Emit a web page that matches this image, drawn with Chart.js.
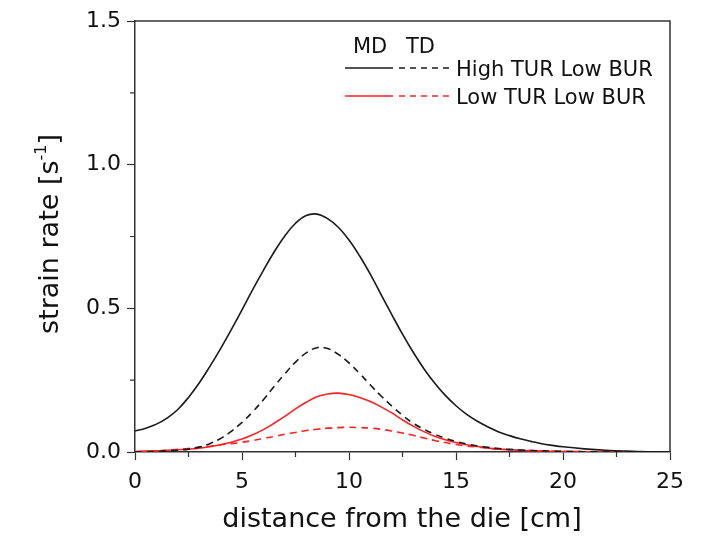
<!DOCTYPE html>
<html>
<head>
<meta charset="utf-8">
<script src="https://cdn.jsdelivr.net/npm/chart.js@4.4.1/dist/chart.umd.min.js"></script>
<style>
  html, body { margin: 0; padding: 0; background: #fff; }
  #wrap { width: 705px; height: 548px; }
</style>
</head>
<body>
<div id="wrap"><canvas id="strainChart" width="705" height="548"></canvas></div>
<script>
// distance from the die [cm]
const distance = [
    0, 0.5, 1, 1.5, 2, 2.5, 3, 3.5, 4, 4.5,
    5, 5.5, 6, 6.5, 7, 7.5, 8, 8.5, 9, 9.5,
    10, 10.5, 11, 11.5, 12, 12.5, 13, 13.5, 14, 14.5,
    15, 15.5, 16, 16.5, 17, 17.5, 18, 18.5, 19, 19.5,
    20, 21, 22, 23, 24, 25
];

// strain rate [1/s]
const highTurMD = [
    0.073, 0.083, 0.097, 0.118, 0.148, 0.190, 0.240, 0.298, 0.360, 0.426,
    0.495, 0.565, 0.632, 0.696, 0.752, 0.796, 0.823, 0.828, 0.812, 0.782,
    0.738, 0.682, 0.618, 0.548, 0.478, 0.410, 0.347, 0.290, 0.240, 0.197,
    0.161, 0.131, 0.107, 0.087, 0.070, 0.057, 0.046, 0.037, 0.029, 0.023,
    0.018, 0.011, 0.006, 0.003, 0.001, 0.0
];
const highTurTD = [
    0.0, 0.001, 0.002, 0.004, 0.006, 0.010, 0.017, 0.029, 0.047, 0.072,
    0.103, 0.140, 0.182, 0.228, 0.272, 0.313, 0.345, 0.363, 0.360, 0.340,
    0.310, 0.273, 0.233, 0.195, 0.160, 0.128, 0.100, 0.079, 0.062, 0.048,
    0.037, 0.028, 0.021, 0.016, 0.012, 0.009, 0.007, 0.005, 0.004, 0.003,
    0.002, 0.001, 0.0, 0.0, 0.0, 0.0
];
const lowTurMD = [
    0.002, 0.003, 0.004, 0.006, 0.008, 0.010, 0.013, 0.018, 0.025, 0.034,
    0.045, 0.060, 0.078, 0.100, 0.124, 0.150, 0.173, 0.192, 0.202, 0.205,
    0.200, 0.190, 0.176, 0.157, 0.136, 0.112, 0.090, 0.071, 0.055, 0.043,
    0.033, 0.025, 0.019, 0.014, 0.010, 0.008, 0.006, 0.004, 0.003, 0.002,
    0.002, 0.001, 0.0, 0.0, 0.0, 0.0
];
const lowTurTD = [
    0.001, 0.002, 0.003, 0.006, 0.009, 0.012, 0.016, 0.020, 0.025, 0.029,
    0.034, 0.040, 0.047, 0.054, 0.062, 0.068, 0.075, 0.079, 0.083, 0.085,
    0.086, 0.085, 0.083, 0.079, 0.073, 0.066, 0.058, 0.049, 0.040, 0.033,
    0.026, 0.021, 0.017, 0.013, 0.010, 0.008, 0.006, 0.005, 0.004, 0.003,
    0.002, 0.001, 0.0, 0.0, 0.0, 0.0
];

const xTicks = [0, 5, 10, 15, 20, 25];
const yTicks = [0.0, 0.5, 1.0, 1.5];
const legendHeader = ['MD', 'TD'];
const legendLabels = ['High TUR Low BUR', 'Low TUR Low BUR'];

const BLACK = '#1a1a1a';
const RED = '#ff2020';
const DASH = [7, 5];
const AXIS = '#333';

function pts(ys) {
    return distance.map((x, i) => ({ x: x, y: ys[i] }));
}

function lineSet(label, ys, color, dashed) {
    return {
        label: label,
        data: pts(ys),
        borderColor: color,
        borderWidth: 1.6,
        borderDash: dashed ? DASH : [],
        pointRadius: 0,
        tension: 0.4,
        fill: false
    };
}

// frame, minor ticks, axis titles and the MD/TD legend
const decorations = {
    id: 'decorations',
    afterDraw(chart) {
        const ctx = chart.ctx;
        const a = chart.chartArea;
        const xs = chart.scales.x;
        const ys = chart.scales.y;
        ctx.save();

        // top and right frame
        ctx.strokeStyle = AXIS;
        ctx.lineWidth = 1.5;
        ctx.beginPath();
        ctx.moveTo(a.left, a.top);
        ctx.lineTo(a.right, a.top);
        ctx.lineTo(a.right, a.bottom);
        ctx.stroke();

        // minor ticks halfway between the major ones
        ctx.lineWidth = 1.2;
        ctx.beginPath();
        for (let i = 0; i < xTicks.length - 1; i++) {
            const px = xs.getPixelForValue((xTicks[i] + xTicks[i + 1]) / 2);
            ctx.moveTo(px, a.bottom);
            ctx.lineTo(px, a.bottom + 5);
        }
        for (let i = 0; i < yTicks.length - 1; i++) {
            const py = ys.getPixelForValue((yTicks[i] + yTicks[i + 1]) / 2);
            ctx.moveTo(a.left, py);
            ctx.lineTo(a.left - 5, py);
        }
        ctx.stroke();

        // x title
        ctx.fillStyle = '#111';
        ctx.font = '27px "DejaVu Sans"';
        ctx.textAlign = 'center';
        ctx.textBaseline = 'alphabetic';
        ctx.fillText('distance from the die [cm]', 402, 527);

        // y title with superscript
        ctx.save();
        ctx.translate(58, 234);
        ctx.rotate(-Math.PI / 2);
        const main = 'strain rate [s';
        const sup = '-1';
        const end = ']';
        ctx.font = '27px "DejaVu Sans"';
        const wMain = ctx.measureText(main).width;
        const wEnd = ctx.measureText(end).width;
        ctx.font = '16px "DejaVu Sans"';
        const wSup = ctx.measureText(sup).width;
        let x0 = -(wMain + wSup + wEnd) / 2;
        ctx.textAlign = 'left';
        ctx.font = '27px "DejaVu Sans"';
        ctx.fillText(main, x0, 0);
        ctx.font = '16px "DejaVu Sans"';
        ctx.fillText(sup, x0 + wMain, -12);
        ctx.font = '27px "DejaVu Sans"';
        ctx.fillText(end, x0 + wMain + wSup, 0);
        ctx.restore();

        // legend
        ctx.font = '21px "DejaVu Sans"';
        ctx.textAlign = 'left';
        ctx.fillText(legendHeader[0], 353, 53);
        ctx.fillText(legendHeader[1], 406, 53);
        const rows = [
            { y: 68, color: BLACK, label: legendLabels[0] },
            { y: 96, color: RED, label: legendLabels[1] }
        ];
        rows.forEach(r => {
            ctx.lineWidth = 1.6;
            ctx.strokeStyle = r.color;
            ctx.setLineDash([]);
            ctx.beginPath();
            ctx.moveTo(345, r.y);
            ctx.lineTo(393, r.y);
            ctx.stroke();
            ctx.setLineDash([6, 5]);
            ctx.beginPath();
            ctx.moveTo(399, r.y);
            ctx.lineTo(450, r.y);
            ctx.stroke();
            ctx.setLineDash([]);
            ctx.fillStyle = '#111';
            ctx.fillText(r.label, 456, r.y + 8);
        });

        ctx.restore();
    }
};

const ctx = document.getElementById('strainChart').getContext('2d');
new Chart(ctx, {
    type: 'line',
    data: {
        datasets: [
            lineSet('High TUR Low BUR MD', highTurMD, BLACK, false),
            lineSet('High TUR Low BUR TD', highTurTD, BLACK, true),
            lineSet('Low TUR Low BUR MD', lowTurMD, RED, false),
            lineSet('Low TUR Low BUR TD', lowTurTD, RED, true)
        ]
    },
    options: {
        responsive: false,
        animation: false,
        layout: { padding: { top: 21, right: 35, left: 0, bottom: 0 } },
        plugins: {
            legend: { display: false },
            tooltip: { enabled: false }
        },
        scales: {
            x: {
                type: 'linear',
                min: 0,
                max: 25,
                afterFit: s => { s.height = 96; },
                afterBuildTicks: s => { s.ticks = xTicks.map(v => ({ value: v })); },
                grid: { drawOnChartArea: false, tickLength: 8, tickColor: AXIS, tickWidth: 1.2 },
                border: { color: AXIS, width: 1.5 },
                ticks: {
                    padding: 9,
                    color: '#111',
                    font: { family: 'DejaVu Sans', size: 22 },
                    maxRotation: 0,
                    autoSkip: false,
                    callback: v => String(v)
                }
            },
            y: {
                min: 0,
                max: 1.5,
                afterFit: s => { s.width = 135; },
                afterBuildTicks: s => { s.ticks = yTicks.map(v => ({ value: v })); },
                grid: { drawOnChartArea: false, tickLength: 8, tickColor: AXIS, tickWidth: 1.2 },
                border: { color: AXIS, width: 1.5 },
                ticks: {
                    padding: 6,
                    color: '#111',
                    font: { family: 'DejaVu Sans', size: 22 },
                    autoSkip: false,
                    callback: v => Number(v).toFixed(1)
                }
            }
        }
    },
    plugins: [decorations]
});
</script>
</body>
</html>
